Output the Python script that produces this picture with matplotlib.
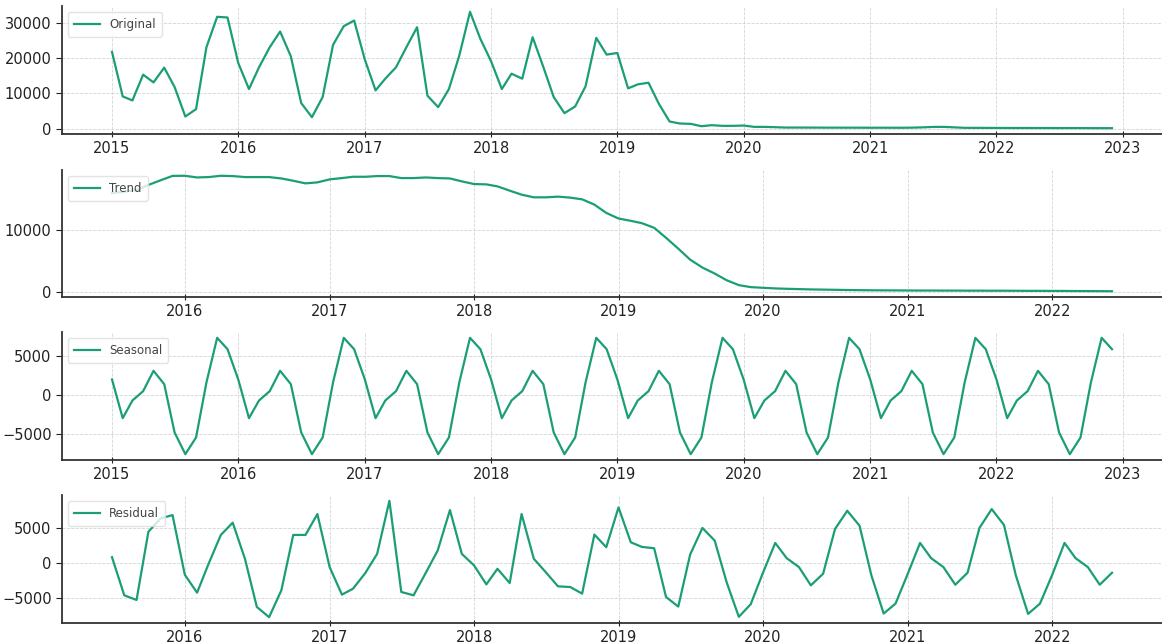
import matplotlib
matplotlib.use("Agg")
import matplotlib.pyplot as plt
import matplotlib.dates as mdates
import pandas as pd
import numpy as np

# ---- data ----
dates_full = pd.date_range("2015-01-01", "2022-12-01", freq="MS")
dates_mid = pd.date_range("2015-07-01", "2022-06-01", freq="MS")

original = [
    21750, 9120, 7980, 15290, 13100, 17280, 11780, 3420, 5510, 23080, 31720, 31530,
    18610, 11210, 17380, 23080, 27540, 20510, 7220, 3230, 8930, 23740, 29060, 30670,
    19560, 10830, 14150, 17380, 23080, 28770, 9310, 6080, 11210, 20700, 33140, 25450,
    19090, 11210, 15570, 14150, 25930, 17470, 8930, 4370, 6270, 11970, 25740, 20990,
    21460, 11400, 12540, 13010, 7030, 1990, 1420, 1330, 660, 950, 760, 760,
    850, 470, 470, 380, 280, 280, 270, 260, 250, 250, 240, 240,
    230, 230, 220, 220, 250, 330, 450, 470, 330, 200, 190, 180,
    170, 160, 150, 150, 140, 140, 130, 130, 120, 110, 100, 100,
]

trend = [
    15900, 16100, 16400, 17200, 17950, 18650,
    18670, 18400, 18460, 18670, 18620, 18460, 18460, 18460, 18240, 17870, 17450, 17610,
    18090, 18300, 18510, 18510, 18620, 18620, 18300, 18300, 18400, 18300, 18240, 17770,
    17340, 17290, 16970, 16280, 15640, 15210, 15210, 15320, 15160, 14890, 14040, 12710,
    11810, 11440, 11060, 10320, 8720, 6970, 5210, 3940, 2980, 1910, 1120, 800,
    690, 590, 530, 480, 430, 400, 370, 330, 310, 290, 280, 270,
    260, 250, 250, 240, 240, 230, 230, 220, 220, 210, 200, 200,
    190, 180, 170, 160, 150, 140,
]

seasonal_cycle = [1970, -2990, -730, 470, 3080, 1370, -4830, -7610, -5470, 1580, 7310, 5850]
seasonal = seasonal_cycle * 8

residual = [
    860, -4620, -5290, 4520, 6430, 6900,
    -1670, -4240, -100, 4050, 5810, 620, -6290, -7760, -3900, 4050, 4050, 7050,
    -570, -4520, -3670, -1430, 1330, 8950, -4140, -4620, -1380, 1810, 7620, 1330,
    -330, -3050, -810, -2860, 7050, 620, -1290, -3330, -3430, -4380, 4100, 2290,
    8000, 3000, 2330, 2140, -4860, -6240, 1240, 5050, 3240, -2710, -7710, -5900,
    -1380, 2900, 710, -570, -3190, -1520, 4900, 7520, 5380, -1760, -7240, -5810,
    -1520, 2900, 710, -570, -3100, -1380, 5050, 7760, 5480, -1760, -7290, -5810,
    -1670, 2900, 710, -570, -3100, -1380,
]

labels = ["Original", "Trend", "Seasonal", "Residual"]

# ---- plot ----
color = "#1b9e77"
fig = plt.figure(figsize=(11.62, 6.44), dpi=100)
W, H = 1162, 644
panels = [(6, 134), (170, 297), (332, 460), (495, 623)]
series = [(dates_full, original), (dates_mid, trend), (dates_full, seasonal), (dates_mid, residual)]

for (top, bot), (x, y), lab in zip(panels, series, labels):
    ax = fig.add_axes([62 / W, 1 - bot / H, 1 - 62 / W, (bot - top) / H])
    ax.plot(x, y, color=color, linewidth=1.6, label=lab)
    ax.grid(True, linestyle="--", color="#d4d4d4", linewidth=0.6)
    ax.set_axisbelow(True)
    for s in ["top", "right"]:
        ax.spines[s].set_visible(False)
    for s in ["left", "bottom"]:
        ax.spines[s].set_color("#333333")
        ax.spines[s].set_linewidth(1.3)
    ax.xaxis.set_major_locator(mdates.YearLocator())
    ax.xaxis.set_major_formatter(mdates.DateFormatter("%Y"))
    ax.tick_params(axis="both", labelsize=10.5, colors="#222222", length=4, width=0.8)
    ax.tick_params(axis="x", direction="inout", pad=3)
    leg = ax.legend(loc="upper left", fontsize=8.5, frameon=True, handlelength=2.2,
                    borderpad=0.5, fancybox=True, labelcolor="#444444")
    leg.get_frame().set_edgecolor("#dddddd")
    leg.get_frame().set_alpha(0.8)

fig.savefig("out.png", dpi=100)
